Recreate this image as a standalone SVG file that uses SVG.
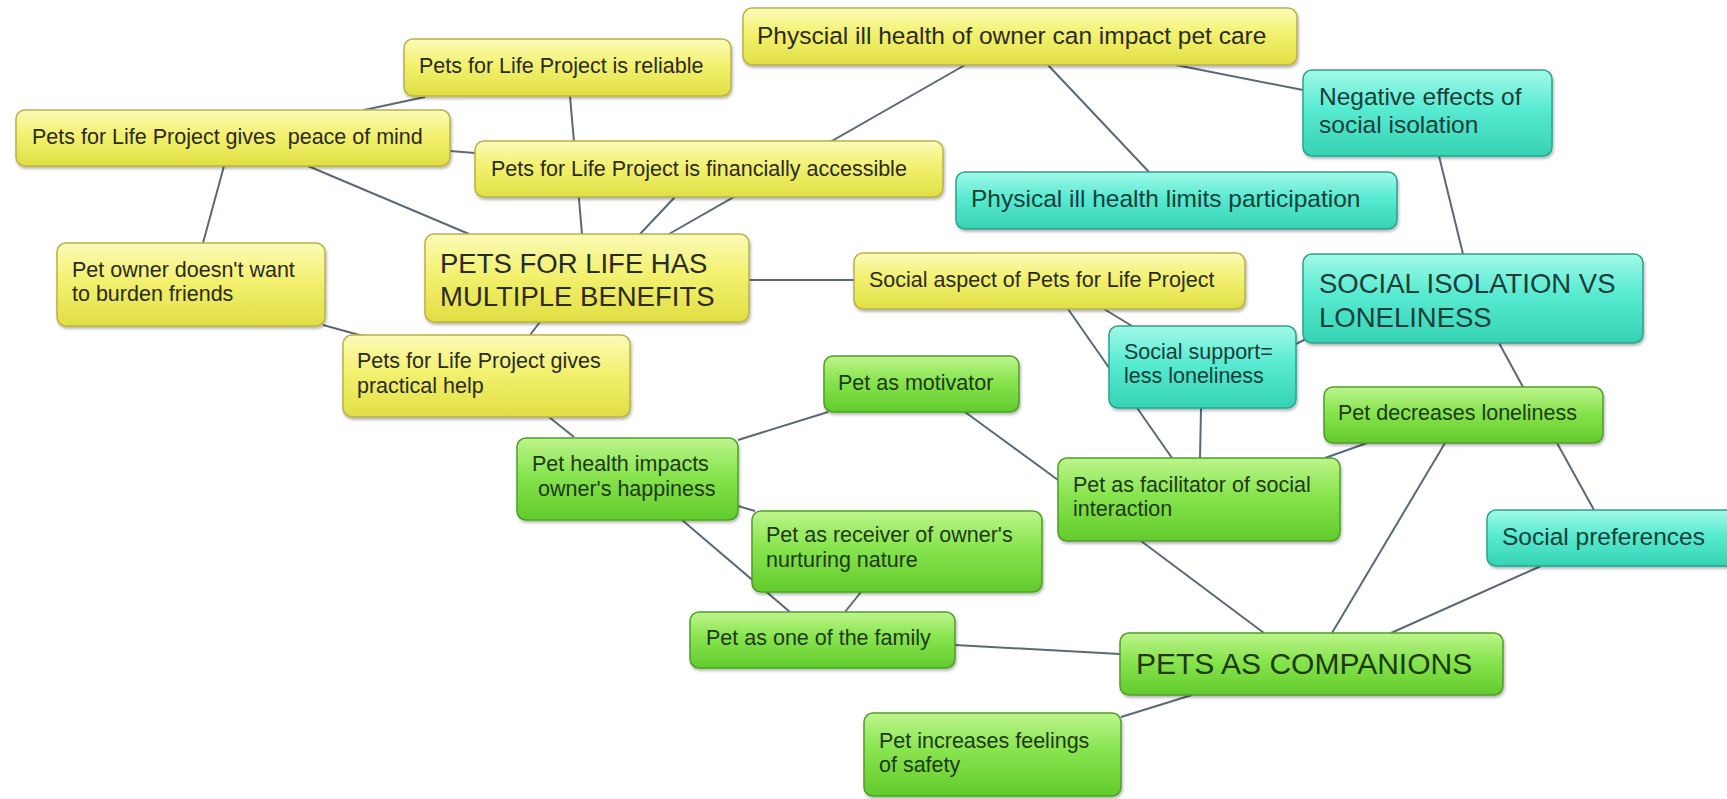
<svg xmlns="http://www.w3.org/2000/svg" width="1727" height="799" viewBox="0 0 1727 799">
<defs>
<linearGradient id="gY" x1="0" y1="0" x2="0" y2="1">
<stop offset="0" stop-color="#fbfbb8"/><stop offset="0.45" stop-color="#f3f170"/><stop offset="1" stop-color="#e1df44"/>
</linearGradient>
<linearGradient id="gT" x1="0" y1="0" x2="0" y2="1">
<stop offset="0" stop-color="#a2f9e9"/><stop offset="0.45" stop-color="#58ebd2"/><stop offset="1" stop-color="#36d2b3"/>
</linearGradient>
<linearGradient id="gG" x1="0" y1="0" x2="0" y2="1">
<stop offset="0" stop-color="#bdf58c"/><stop offset="0.45" stop-color="#88e44e"/><stop offset="1" stop-color="#62cb2c"/>
</linearGradient>
<filter id="sh" x="-5%" y="-10%" width="110%" height="130%">
<feDropShadow dx="1" dy="2" stdDeviation="1.5" flood-color="#000" flood-opacity="0.3"/>
</filter>
</defs>
<style>
rect{filter:url(#sh)}
.y rect{fill:url(#gY);stroke:#b9b247;stroke-width:1.5}
.t rect{fill:url(#gT);stroke:#2ea38c;stroke-width:1.5}
.g rect{fill:url(#gG);stroke:#4f9f2a;stroke-width:1.5}
text{font-family:"Liberation Sans",Arial,sans-serif;font-size:21.5px}
.y text{fill:#2b2b1c}
.t text{fill:#17403a}
.g text{fill:#1d3a12}
.m{font-size:24.5px}
.l{font-size:27.5px}
.xl{font-size:30px}
#connectors line{stroke:#5a6978;stroke-width:2;fill:none}
</style>
<g id="connectors">
<line x1="425" y1="97" x2="364" y2="110"/>
<line x1="570" y1="96" x2="582" y2="234"/>
<line x1="450" y1="151" x2="475" y2="153"/>
<line x1="224" y1="166" x2="203" y2="243"/>
<line x1="308" y1="166" x2="469" y2="234"/>
<line x1="965" y1="65" x2="669" y2="234"/>
<line x1="675" y1="197" x2="640" y2="234"/>
<line x1="1048" y1="65" x2="1149" y2="172"/>
<line x1="1176" y1="65" x2="1303" y2="90"/>
<line x1="1439" y1="156" x2="1463" y2="254"/>
<line x1="749" y1="280" x2="854" y2="280"/>
<line x1="1290" y1="347" x2="1310" y2="337"/>
<line x1="1499" y1="343" x2="1523" y2="387"/>
<line x1="1104" y1="309" x2="1132" y2="326"/>
<line x1="1068" y1="309" x2="1172" y2="458"/>
<line x1="1201" y1="408" x2="1200" y2="458"/>
<line x1="1367" y1="443" x2="1325" y2="458"/>
<line x1="1445" y1="443" x2="1332" y2="633"/>
<line x1="1557" y1="443" x2="1594" y2="510"/>
<line x1="1541" y1="566" x2="1391" y2="633"/>
<line x1="1141" y1="541" x2="1264" y2="633"/>
<line x1="955" y1="645" x2="1120" y2="654"/>
<line x1="1192" y1="695" x2="1121" y2="717"/>
<line x1="965" y1="412" x2="1058" y2="480"/>
<line x1="828" y1="412" x2="738" y2="440"/>
<line x1="549" y1="417" x2="574" y2="437"/>
<line x1="540" y1="322" x2="530" y2="335"/>
<line x1="323" y1="325" x2="363" y2="336"/>
<line x1="738" y1="506" x2="755" y2="511"/>
<line x1="682" y1="520" x2="790" y2="612"/>
<line x1="861" y1="592" x2="845" y2="612"/>
</g>
<g id="n-reliable" class="y"><rect x="404" y="39" width="327" height="57" rx="9"/><text x="419" y="73">Pets for Life Project is reliable</text></g>
<g id="n-physcial" class="y"><rect x="743" y="8" width="554" height="57" rx="9"/><text class="m" x="757" y="44">Physcial ill health of owner can impact pet care</text></g>
<g id="n-peace" class="y"><rect x="16" y="110" width="434" height="56" rx="9"/><text x="32" y="144" xml:space="preserve">Pets for Life Project gives  peace of mind</text></g>
<g id="n-financial" class="y"><rect x="475" y="141" width="468" height="56" rx="9"/><text x="491" y="176">Pets for Life Project is financially accessible</text></g>
<g id="n-negative" class="t"><rect x="1303" y="70" width="249" height="86" rx="9"/><text class="m" x="1319" y="105">Negative effects of</text><text class="m" x="1319" y="133">social isolation</text></g>
<g id="n-limits" class="t"><rect x="956" y="172" width="441" height="57" rx="9"/><text class="m" x="971" y="207">Physical ill health limits participation</text></g>
<g id="n-burden" class="y"><rect x="57" y="243" width="268" height="83" rx="9"/><text x="72" y="277">Pet owner doesn't want</text><text x="72" y="301">to burden friends</text></g>
<g id="n-benefits" class="y"><rect x="425" y="234" width="324" height="88" rx="9"/><text class="l" x="440" y="273">PETS FOR LIFE HAS</text><text class="l" x="440" y="306">MULTIPLE BENEFITS</text></g>
<g id="n-social-aspect" class="y"><rect x="854" y="253" width="391" height="56" rx="9"/><text x="869" y="287">Social aspect of Pets for Life Project</text></g>
<g id="n-isolation" class="t"><rect x="1303" y="254" width="340" height="89" rx="9"/><text class="l" x="1319" y="293">SOCIAL ISOLATION VS</text><text class="l" x="1319" y="327">LONELINESS</text></g>
<g id="n-practical" class="y"><rect x="343" y="335" width="287" height="82" rx="9"/><text x="357" y="368">Pets for Life Project gives</text><text x="357" y="393">practical help</text></g>
<g id="n-support" class="t"><rect x="1109" y="326" width="187" height="82" rx="9"/><text x="1124" y="359">Social support=</text><text x="1124" y="383">less loneliness</text></g>
<g id="n-motivator" class="g"><rect x="824" y="356" width="195" height="56" rx="9"/><text x="838" y="390">Pet as motivator</text></g>
<g id="n-decreases" class="g"><rect x="1324" y="387" width="279" height="56" rx="9"/><text x="1338" y="420">Pet decreases loneliness</text></g>
<g id="n-health" class="g"><rect x="517" y="438" width="221" height="82" rx="9"/><text x="532" y="471">Pet health impacts</text><text x="538" y="496">owner's happiness</text></g>
<g id="n-facilitator" class="g"><rect x="1058" y="458" width="282" height="83" rx="9"/><text x="1073" y="492">Pet as facilitator of social</text><text x="1073" y="516">interaction</text></g>
<g id="n-receiver" class="g"><rect x="752" y="511" width="290" height="81" rx="9"/><text x="766" y="542">Pet as receiver of owner's</text><text x="766" y="567">nurturing nature</text></g>
<g id="n-preferences" class="t"><rect x="1487" y="510" width="258" height="56" rx="9"/><text class="m" x="1502" y="545">Social preferences</text></g>
<g id="n-family" class="g"><rect x="690" y="612" width="265" height="56" rx="9"/><text x="706" y="645">Pet as one of the family</text></g>
<g id="n-companions" class="g"><rect x="1120" y="633" width="383" height="62" rx="9"/><text class="xl" x="1136" y="674">PETS AS COMPANIONS</text></g>
<g id="n-safety" class="g"><rect x="864" y="713" width="257" height="83" rx="9"/><text x="879" y="748">Pet increases feelings</text><text x="879" y="772">of safety</text></g>
</svg>
